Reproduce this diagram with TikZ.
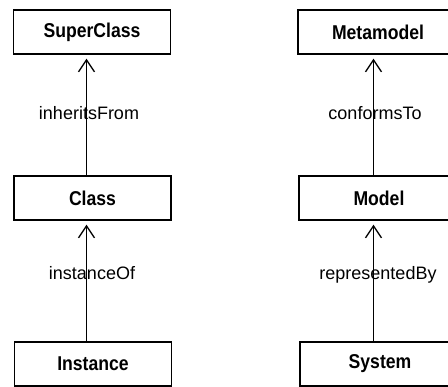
\documentclass[tikz,border=0pt]{standalone}
\usepackage{fontspec}
\usepackage{graphicx}
\setmainfont{Liberation Sans}
\usetikzlibrary{arrows.meta}
% narrow bold caption for the boxes
\newcommand\boxcaption[1]{\scalebox{0.88}[1]{#1}}
\tikzset{
  box/.style={draw, line width=1.4pt, minimum width=157pt, minimum height=44pt,
    inner sep=0pt, font=\fontsize{20}{22}\selectfont\bfseries},
  rel/.style={line width=1.5pt, -{Straight Barb[length=12pt,width=16pt,line width=1.3pt]}, shorten >=4pt},
  lbl/.style={anchor=base, inner sep=0pt, font=\fontsize{18}{20}\selectfont}
}
\begin{document}
\begin{tikzpicture}[x=1pt,y=-1pt]
  \useasboundingbox (0,0) rectangle (448,387);
  \clip (0,0) rectangle (448,387);
  % left column: inheritance chain
  \node[box] (sc)  at (92,32)    {\boxcaption{SuperClass}};
  \node[box] (cl)  at (92.5,198) {\boxcaption{Class}};
  \node[box] (ins) at (93,364)   {\boxcaption{Instance}};
  % right column: modelling chain
  \node[box, minimum width=160pt] (mm) at (378,32)  {\boxcaption{Metamodel}};
  \node[box, minimum width=160pt] (mo) at (379,198) {\boxcaption{Model}};
  \node[box, minimum width=160pt] (sy) at (380,364) {\boxcaption{System}};
  % relations
  \draw[rel] ([xshift=-6pt]cl.north)    -- ([xshift=-6pt]cl.north |- sc.south);
  \draw[rel] ([xshift=-6.5pt]ins.north) -- ([xshift=-6.5pt]ins.north |- cl.south);
  \draw[rel] ([xshift=-5.5pt]mo.north)  -- ([xshift=-5.5pt]mo.north |- mm.south);
  \draw[rel] ([xshift=-6.5pt]sy.north)  -- ([xshift=-6.5pt]sy.north |- mo.south);
  % relation labels
  \node[lbl] (l1) at (89,120)  {inheritsFrom};
  \node[lbl] (l2) at (92,280)  {instanceOf};
  \node[lbl] (l3) at (375,120) {conformsTo};
  \node[lbl] (l4) at (378,280) {representedBy};
\end{tikzpicture}
\end{document}
